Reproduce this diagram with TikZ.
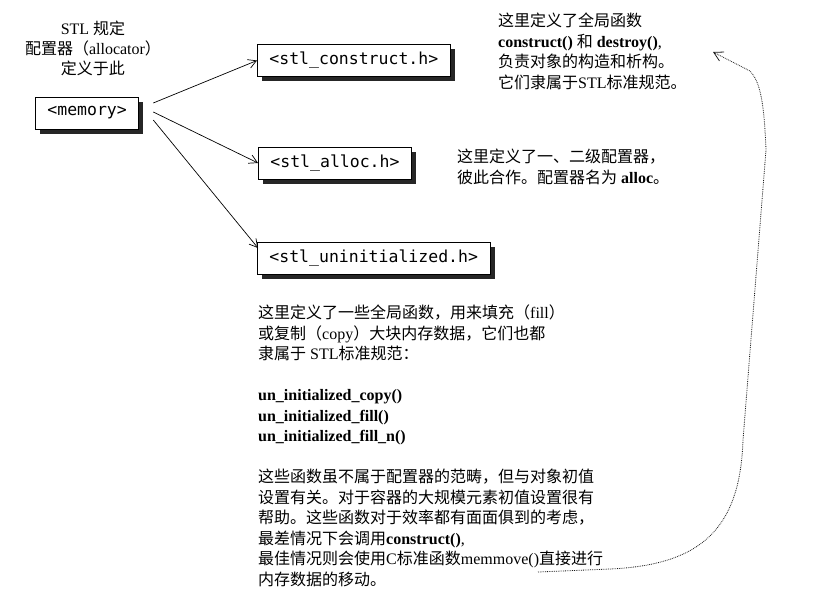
\documentclass[tikz,border=0pt]{standalone}
\usepackage{fontspec}
\setmainfont{Liberation Serif}
\newfontfamily\cjk{Noto Sans CJK SC}
\newfontfamily\codefont{DejaVu Sans Mono}
\usetikzlibrary{arrows.meta, calc, shadows}
\newcommand{\zh}[1]{{\cjk #1}}

\tikzset{
  filebox/.style={draw, fill=white, line width=0.8pt, anchor=west,
    font=\codefont\fontsize{16.5}{20}\selectfont,
    inner xsep=12pt, inner ysep=0pt, minimum height=32pt,
    general shadow={fill=black!85, shadow xshift=4.5pt, shadow yshift=-4.5pt}},
  link/.style={-{Straight Barb[length=8pt,width=9pt]}, line width=0.7pt},
  note/.style={align=left, anchor=north west, inner sep=0pt,
    font=\fontsize{16}{20.5}\selectfont},
  dotlink/.style={densely dotted, line width=0.8pt, black!90,
    -{Straight Barb[length=9pt,width=10pt]}}
}

\begin{document}
\begin{tikzpicture}[x=1pt, y=-1pt]
    \useasboundingbox (0,0) rectangle (814,605);

    % Header files
    \node[filebox] (memory) at (35,113) {<memory>};
    \node[filebox] (construct) at (257,60.5) {<stl\_construct.h>};
    \node[filebox] (alloc) at (258,163) {<stl\_alloc.h>};
    \node[filebox] (uninit) at (257,258) {<stl\_uninitialized.h>};

    \draw[link] ($(memory.east)+(14,-10)$) -- (construct.west);
    \draw[link] ($(memory.east)+(14,-1)$) -- (alloc.west);
    \draw[link] ($(memory.east)+(14,7)$) -- ($(uninit.west)+(1,-10)$);

    % Notes
    \node[align=center, inner sep=0pt, font=\fontsize{16}{20}\selectfont] (memorynote) at (93,48)
        {STL \zh{规定}\\ \zh{配置器（}allocator\zh{）}\\ \zh{定义于此}};

    \node[note] (constructnote) at (498,13)
        {\zh{这里定义了全局函数}\\
         \textbf{construct()} \zh{和} \textbf{destroy()},\\
         \zh{负责对象的构造和析构。}\\
         \zh{它们隶属于}STL\zh{标准规范。}};

    \node[note] (allocnote) at (457,149)
        {\zh{这里定义了一、二级配置器，}\\
         \zh{彼此合作。配置器名为} \textbf{alloc}\zh{。}};

    \node[note] (uninitnote) at (258,305)
        {\zh{这里定义了一些全局函数，用来填充（}fill\zh{）}\\
         \zh{或复制（}copy\zh{）大块内存数据，它们也都}\\
         \zh{隶属于} STL\zh{标准规范：}\\[20.5pt]
         \textbf{un\_initialized\_copy()}\\
         \textbf{un\_initialized\_fill()}\\
         \textbf{un\_initialized\_fill\_n()}\\[20.5pt]
         \zh{这些函数虽不属于配置器的范畴，但与对象初值}\\
         \zh{设置有关。对于容器的大规模元素初值设置很有}\\
         \zh{帮助。这些函数对于效率都有面面俱到的考虑，}\\
         \zh{最差情况下会调用}\textbf{construct()},\\
         \zh{最佳情况则会使用}C\zh{标准函数}memmove()\zh{直接进行}\\
         \zh{内存数据的移动。}};

    % Dotted link back up
    \coordinate (dotstart) at (538,572);
    \coordinate (dotend) at (713,52);
    \draw[dotlink] (dotstart) -- (610,569) .. controls (700,565) and (740,530) .. (743,440)
        -- (766,150) .. controls (764,100) and (760,82) .. (750,71) -- (dotend);
\end{tikzpicture}
\end{document}
